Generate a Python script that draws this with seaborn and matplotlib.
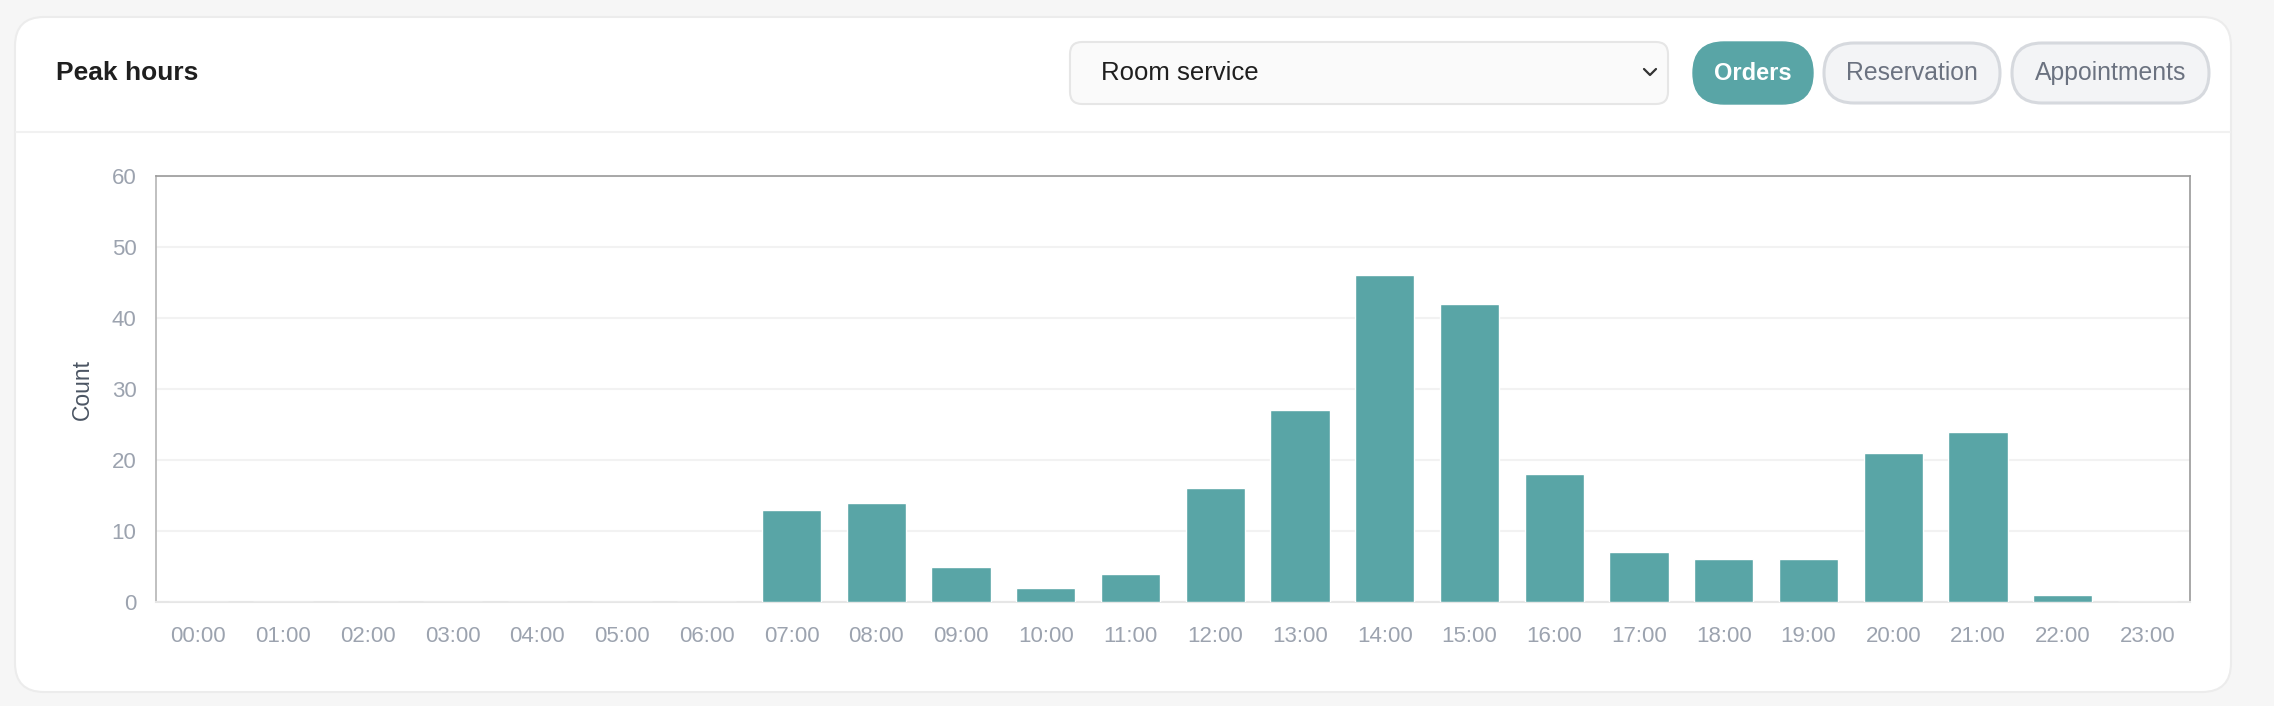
import matplotlib
matplotlib.use("Agg")
import matplotlib.pyplot as plt
from matplotlib.patches import FancyBboxPatch
import seaborn as sns
import pandas as pd

hours = ["%02d:00" % h for h in range(24)]
counts = [0, 0, 0, 0, 0, 0, 0, 13, 14, 5, 2, 4, 16, 27, 46, 42, 18, 7, 6, 6, 21, 24, 1, 0]
y_ticks = [0, 10, 20, 30, 40, 50, 60]
title = "Peak hours"
dropdown_label = "Room service"
pills = ["Orders", "Reservation", "Appointments"]

teal = "#59a5a6"

sns.set_theme(style="white")
plt.rcParams["font.family"] = ["Liberation Sans", "DejaVu Sans"]

W, H = 2274, 706
fig = plt.figure(figsize=(W / 100, H / 100), dpi=100)
fig.patch.set_facecolor("#f6f6f6")

# background layer in pixel coords for the card and header widgets
bg = fig.add_axes([0, 0, 1, 1])
bg.set_xlim(0, W)
bg.set_ylim(H, 0)
bg.axis("off")

def box(x0, y0, x1, y1, r, fc, ec, lw=1.5):
    p = FancyBboxPatch((x0, y0), x1 - x0, y1 - y0,
                       boxstyle="round,pad=0,rounding_size=%d" % r,
                       fc=fc, ec=ec, lw=lw)
    bg.add_patch(p)

box(15, 17, 2231, 692, 29, "white", "#ececec", 1.5)
bg.plot([16, 2230], [132, 132], color="#f1f1f1", lw=1.5)

bg.text(56, 73, title, fontsize=19, fontweight="bold", color="#1f1f1f", va="center")

# dropdown
box(1070, 42, 1668, 104, 12, "#fafafa", "#e6e6e6", 1.5)
bg.text(1101, 73, dropdown_label, fontsize=18.5, color="#1f1f1f", va="center")
bg.plot([1644, 1650, 1656], [69, 75, 69], color="#333333", lw=1.6)

# pills
pill_pos = [(1693, 1813), (1824, 2000), (2012, 2209)]
for i, (name, (x0, x1)) in enumerate(zip(pills, pill_pos)):
    if i == 0:
        box(x0, 42, x1, 104, 31, teal, teal, 1)
        bg.text((x0 + x1) / 2, 73, name, fontsize=17, fontweight="bold",
                color="white", ha="center", va="center")
    else:
        box(x0, 43, x1, 103, 30, "#f3f4f6", "#d6d9de", 2.2)
        bg.text((x0 + x1) / 2, 73, name, fontsize=17.8, color="#6b7280",
                ha="center", va="center")

# chart
ax = fig.add_axes([0.0686, 0.1473, 0.963 - 0.0686, 0.7507 - 0.1473])
df = pd.DataFrame({"hour": hours, "count": counts})
sns.barplot(data=df, x="hour", y="count", color=teal, width=0.7,
            saturation=1, ax=ax, zorder=3)
ax.set_ylim(0, 60)
ax.set_yticks(y_ticks)
ax.set_xlim(-0.5, 23.5)
ax.yaxis.grid(True, color="#f2f2f2", lw=1.5, zorder=0)
ax.set_axisbelow(True)
ax.tick_params(axis="both", length=0, labelsize=16, labelcolor="#9ca3af")
ax.tick_params(axis="x", pad=17)
ax.tick_params(axis="y", pad=14)
ax.set_xlabel("")
ax.set_ylabel("Count", fontsize=16.5, color="#4b5563", labelpad=13)
for side in ["left", "top", "right"]:
    ax.spines[side].set_color("#9a9a9a")
    ax.spines[side].set_linewidth(1.2)
ax.spines["bottom"].set_color("#e6e6e6")
ax.spines["bottom"].set_linewidth(1.5)
ax.spines["left"].set_color("#b5b5b5")

fig.savefig("out.png", dpi=100, facecolor=fig.get_facecolor())
